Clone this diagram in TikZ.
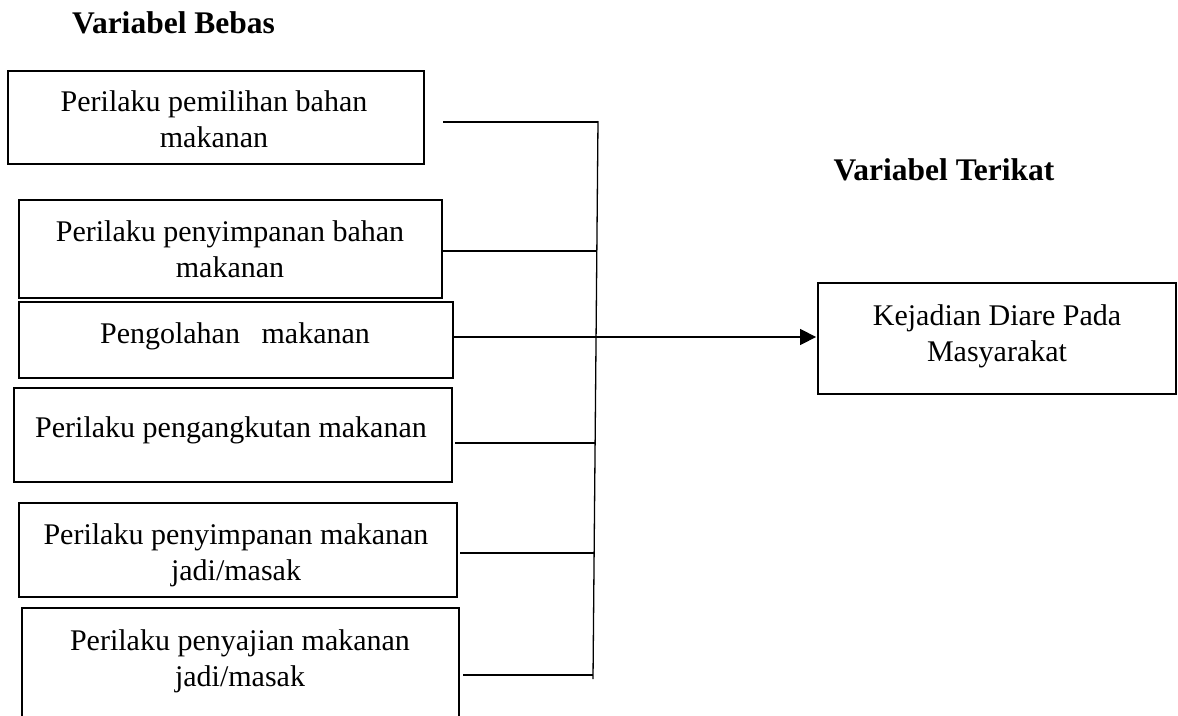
\documentclass[tikz,border=0pt]{standalone}
\usepackage{fontspec}
\setmainfont{Liberation Serif}
\usetikzlibrary{arrows.meta}
\begin{document}
\begin{tikzpicture}[x=1pt,y=-1pt,
  box/.style={draw, line width=1.8pt, inner sep=0pt},
  txt/.style={align=center, inner sep=0pt, font=\fontsize{30}{36}\selectfont},
  ttl/.style={inner sep=0pt, font=\fontsize{31.5}{38}\selectfont\bfseries},
  conn/.style={line width=1.3pt},
  arr/.style={conn, -{Triangle[length=16pt,width=16pt]}}]
\useasboundingbox (0,0) rectangle (1178,715);

% titles
\node[ttl] (tb) at (173.5,22.5) {Variabel Bebas};
\node[ttl] (tt) at (944,170) {Variabel Terikat};

% boxes
\node[box, minimum width=416pt, minimum height=93pt] (b1) at (216,117.5) {};
\node[box, minimum width=423pt, minimum height=98pt] (b2) at (230.5,249) {};
\node[box, minimum width=434pt, minimum height=76pt] (b3) at (236,340) {};
\node[box, minimum width=438pt, minimum height=94pt] (b4) at (233,435) {};
\node[box, minimum width=438pt, minimum height=94pt] (b5) at (238,550) {};
\node[box, minimum width=437pt, minimum height=122pt] (b6) at (240.5,669) {};
\node[box, minimum width=358pt, minimum height=111pt] (bt) at (997,338.5) {};

% texts
\node[txt] (t1) at (214,119.5) {Perilaku pemilihan bahan\\makanan};
\node[txt] (t2) at (230,249.5) {Perilaku penyimpanan bahan\\makanan};
\node[txt] (t3) at (235,336) {Pengolahan\hspace{0.72em}makanan};
\node[txt] (t4) at (231,430) {Perilaku pengangkutan makanan};
\node[txt] (t5) at (236,555) {Perilaku penyimpanan makanan\\jadi/masak};
\node[txt] (t6) at (240,661) {Perilaku penyajian makanan\\jadi/masak};
\node[txt] (tk) at (997,336) {Kejadian Diare Pada\\Masyarakat};

% connector points
\coordinate (top) at (598,121);
\coordinate (bot) at (593,679);
\coordinate (s1) at (443,122);   \coordinate (e1) at (598,122);
\coordinate (s2) at (443,251);   \coordinate (e2) at (596.8,251);
\coordinate (s3) at (453,337);   \coordinate (e3) at (596,337);
\coordinate (s4) at (455,443);   \coordinate (e4) at (595.1,443);
\coordinate (s5) at (460,553);   \coordinate (e5) at (594.1,553);
\coordinate (s6) at (463,675);   \coordinate (e6) at (593,675);

\draw[conn] (top) -- (bot);
\draw[conn] (s1) -- (e1);
\draw[conn] (s2) -- (e2);
\draw[conn] (s3) -- (e3);
\draw[conn] (s4) -- (e4);
\draw[conn] (s5) -- (e5);
\draw[conn] (s6) -- (e6);
\draw[arr, shorten >=1pt] (e3) -- (bt.west |- e3);
\end{tikzpicture}
\end{document}
